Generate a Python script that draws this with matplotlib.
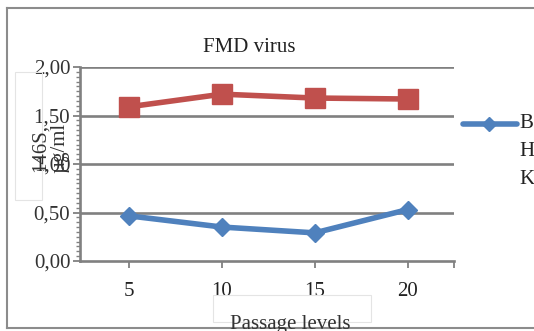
import matplotlib
matplotlib.use("Agg")
import matplotlib.pyplot as plt
from matplotlib.patches import Rectangle
from matplotlib.lines import Line2D
import numpy as np

passage_levels = ["5", "10", "15", "20"]
series_red = [1.59, 1.72, 1.68, 1.67]
series_blue = [0.465, 0.35, 0.29, 0.53]
y_ticks = [0.0, 0.5, 1.0, 1.5, 2.0]
y_tick_labels = ["0,00", "0,50", "1,00", "1,50", "2,00"]
legend_letters = ["B", "H", "K"]

W, H = 534, 331
plt.rcParams['font.family'] = ['Liberation Serif', 'DejaVu Serif']
fig = plt.figure(figsize=(W / 100, H / 100), dpi=100)

def fx(px):
    return px / W

def fy(py):
    return 1 - py / H

# outer frame (left, top, bottom)
frame_col = "#8c8c8c"
fig.add_artist(Line2D([fx(7), fx(7)], [fy(8), fy(328)], color=frame_col, lw=1.5))
fig.add_artist(Line2D([fx(7), fx(534)], [fy(8), fy(8)], color=frame_col, lw=1.5))
fig.add_artist(Line2D([fx(7), fx(534)], [fy(328), fy(328)], color=frame_col, lw=1.5))

# faint boxes around axis titles
fig.add_artist(Rectangle((fx(15), fy(200)), fx(42) - fx(15), fy(72) - fy(200),
                         fill=False, ec="#e4e4e4", lw=0.8))
fig.add_artist(Rectangle((fx(213), fy(322)), fx(371) - fx(213), fy(295) - fy(322),
                         fill=False, ec="#e4e4e4", lw=0.8))

ax = fig.add_axes([fx(80), fy(261), fx(454) - fx(80), fy(67) - fy(261)])
x = np.arange(len(passage_levels))

grid_col = "#808080"
ax.set_ylim(0, 2.0)
ax.set_xlim(-0.53, len(passage_levels) - 0.5)
for v in y_ticks[1:]:
    ax.axhline(v, color=grid_col, lw=1.9, zorder=1)

ax.plot(x, series_red, color="#C0504D", lw=4.0, marker="s", markersize=15,
        zorder=3)
ax.plot(x, series_blue, color="#4F81BD", lw=4.0, marker="D", markersize=9.5,
        zorder=3)

for s in ["top", "right"]:
    ax.spines[s].set_visible(False)
for s in ["left", "bottom"]:
    ax.spines[s].set_color(grid_col)
    ax.spines[s].set_linewidth(1.9)

ax.set_yticks(y_ticks)
ax.set_yticklabels(y_tick_labels)
ax.set_yticks(np.arange(0, 2.0001, 0.05), minor=True)
ax.set_xticks(x)
ax.set_xticklabels(passage_levels)
ax.set_xticks([len(passage_levels) - 0.5], minor=True)
ax.tick_params(axis="y", which="major", direction="out", length=5, width=1.3,
               color=grid_col, labelsize=15, pad=2, labelcolor="#333333")
ax.tick_params(axis="y", which="minor", direction="out", length=3, width=1,
               color=grid_col)
ax.tick_params(axis="x", which="major", direction="out", length=5, width=1.3,
               color=grid_col, labelsize=15, pad=10, labelcolor="#222222")
ax.tick_params(axis="x", which="minor", direction="out", length=5, width=1.3,
               color=grid_col)

# title and axis titles
fig.text(fx(249), fy(47), "FMD virus", ha="center", va="center", fontsize=15,
         color="#222222")
fig.text(fx(50), fy(148), "146S,\nµg/ml", ha="center", va="center",
         rotation=90, fontsize=15, color="#333333", linespacing=1.0)
fig.text(fx(290), fy(324), "Passage levels", ha="center", va="center",
         fontsize=15, color="#333333")

# legend (partially cut)
fig.add_artist(Line2D([fx(463), fx(517)], [fy(124), fy(124)], color="#4F81BD",
                      lw=4.0, solid_capstyle="round"))
fig.add_artist(Line2D([fx(489)], [fy(124)], color="#4F81BD", marker="D",
                      markersize=7.5, lw=0))
for i, ch in enumerate(legend_letters):
    fig.text(fx(519), fy(124 + i * 28), ch, ha="left", va="center",
             fontsize=15, color="#222222")

fig.savefig("out.png", dpi=100)
